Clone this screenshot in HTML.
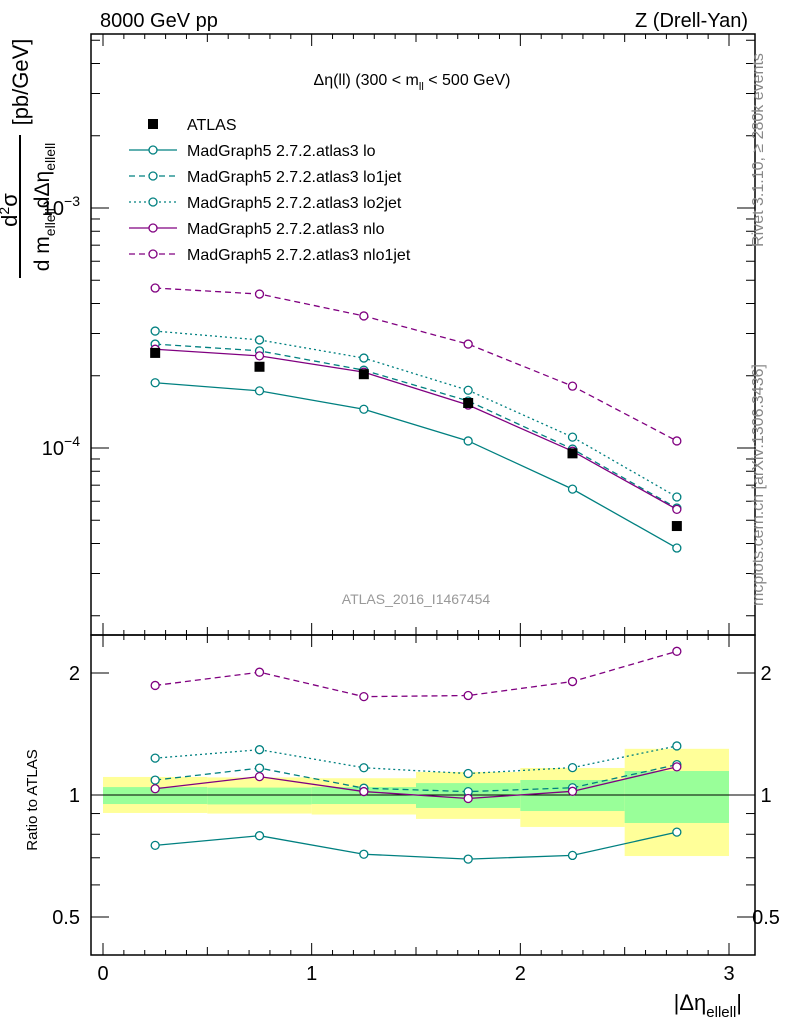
<!DOCTYPE html>
<html><head><meta charset="utf-8"><style>
body{margin:0;background:#fff;}
svg{display:block;font-family:"Liberation Sans",sans-serif;}
</style></head><body>
<svg id="c" width="786" height="1024"></svg>
<script>
const xCenters=[0.25,0.75,1.25,1.75,2.25,2.75];
const binEdges=[0,0.5,1,1.5,2,2.5,3];
const atlas=[2.49e-4,2.18e-4,2.03e-4,1.54e-4,9.5e-5,4.73e-5];
const lo=[1.87e-4,1.73e-4,1.45e-4,1.07e-4,6.74e-5,3.83e-5];
const lo1jet=[2.71e-4,2.54e-4,2.11e-4,1.57e-4,9.9e-5,5.62e-5];
const lo2jet=[3.07e-4,2.82e-4,2.37e-4,1.74e-4,1.11e-4,6.25e-5];
const nlo=[2.58e-4,2.42e-4,2.07e-4,1.51e-4,9.7e-5,5.55e-5];
const nlo1jet=[4.64e-4,4.38e-4,3.55e-4,2.71e-4,1.81e-4,1.07e-4];
const yellowUp=[1.108,1.105,1.10,1.14,1.166,1.30];
const yellowDn=[0.903,0.90,0.895,0.873,0.834,0.707];
const greenUp=[1.046,1.043,1.046,1.07,1.089,1.146];
const greenDn=[0.95,0.948,0.95,0.929,0.913,0.853];
const xTicks=[0,1,2,3];
const ratioTicks=[0.5,1,2];

const NS="http://www.w3.org/2000/svg";
const svg=document.getElementById('c');
function el(t,a,p){const e=document.createElementNS(NS,t);for(const k in a)e.setAttribute(k,a[k]);(p||svg).appendChild(e);return e;}
const X=v=>103+v*208.67;
const Y=v=>448-(Math.log10(v)+4)*240;
const R=v=>795-Math.log2(v)*122;
const L=91,Rt=755,T=34,M=635,B=955;

xCenters.forEach((c,i)=>{
 const y=el('rect',{x:X(binEdges[i]),y:R(yellowUp[i]),width:X(binEdges[i+1])-X(binEdges[i]),height:R(yellowDn[i])-R(yellowUp[i]),fill:'#ffff99'});
 
 const g=el('rect',{x:X(binEdges[i]),y:R(greenUp[i]),width:X(binEdges[i+1])-X(binEdges[i]),height:R(greenDn[i])-R(greenUp[i]),fill:'#99ff99'});
 
});
el('line',{x1:L,x2:Rt,y1:R(1),y2:R(1),stroke:'#000','stroke-width':1});

el('rect',{x:L,y:T,width:Rt-L,height:M-T,fill:'none',stroke:'#000','stroke-width':1.5});
el('rect',{x:L,y:M,width:Rt-L,height:B-M,fill:'none',stroke:'#000','stroke-width':1.5});

function xt(y0,y1dir){
 for(let v=0;v<=3.001;v+=0.1){const maj=Math.abs(v-Math.round(v))<0.01;const half=Math.abs(v*2-Math.round(v*2))<0.01;const len=maj?12:(half?8:5);
  el('line',{x1:X(v),x2:X(v),y1:y0,y2:y0+y1dir*len,stroke:'#000'});}
}
xt(M,-1);xt(T,1);xt(B,-1);xt(M,1);
xTicks.forEach(v=>{const t=el('text',{x:X(v),y:980,'font-size':20,'text-anchor':'middle'});t.textContent=v;
});
for(let d=-5;d<=-2;d++)for(let m=1;m<=9;m++){const v=m*Math.pow(10,d);const y=Y(v);if(y<T||y>M)continue;const len=m==1?18:9;
 el('line',{x1:L,x2:L+len,y1:y,y2:y,stroke:'#000'});el('line',{x1:Rt,x2:Rt-len,y1:y,y2:y,stroke:'#000'});}
[['10',-3],['10',-4]].forEach(([b,e])=>{const t=el('text',{x:80,y:Y(Math.pow(10,e))+7,'font-size':20,'text-anchor':'end'});t.innerHTML=b+'<tspan dy="-9" font-size="14">−'+(-e)+'</tspan>';
 });
[0.5,0.6,0.7,0.8,0.9,1,2].forEach(v=>{const len=ratioTicks.includes(v)?18:9;el('line',{x1:L,x2:L+len,y1:R(v),y2:R(v),stroke:'#000'});el('line',{x1:Rt,x2:Rt-len,y1:R(v),y2:R(v),stroke:'#000'});});
ratioTicks.forEach(v=>{[[80,'end'],[766,'middle']].forEach(([x,a])=>{const t=el('text',{x:x,y:R(v)+7,'font-size':20,'text-anchor':a});t.textContent=v;
 });});

const series=[
 {n:'lo',d:lo,c:'#008080',dash:''},
 {n:'lo1jet',d:lo1jet,c:'#008080',dash:'6,4'},
 {n:'lo2jet',d:lo2jet,c:'#008080',dash:'2,3'},
 {n:'nlo',d:nlo,c:'#800080',dash:''},
 {n:'nlo1jet',d:nlo1jet,c:'#800080',dash:'6,4'}];
series.forEach(s=>{
 const pm=s.d.map((v,i)=>X(xCenters[i])+','+Y(v)).join(' ');
 const pl=el('polyline',{points:pm,fill:'none',stroke:s.c,'stroke-width':1.3,'stroke-dasharray':s.dash});
 
 const pr=s.d.map((v,i)=>X(xCenters[i])+','+R(v/atlas[i])).join(' ');
 const pl2=el('polyline',{points:pr,fill:'none',stroke:s.c,'stroke-width':1.3,'stroke-dasharray':s.dash});
 
 s.d.forEach((v,i)=>{
  const c1=el('circle',{cx:X(xCenters[i]),cy:Y(v),r:4,fill:'#fff',stroke:s.c,'stroke-width':1.3});
  
  const c2=el('circle',{cx:X(xCenters[i]),cy:R(v/atlas[i]),r:4,fill:'#fff',stroke:s.c,'stroke-width':1.3});
  
 });
});
atlas.forEach((v,i)=>{const r=el('rect',{x:X(xCenters[i])-5,y:Y(v)-5,width:10,height:10,fill:'#000'});
 });

const leg=[['ATLAS',null],['MadGraph5 2.7.2.atlas3 lo',0],['MadGraph5 2.7.2.atlas3 lo1jet',1],['MadGraph5 2.7.2.atlas3 lo2jet',2],['MadGraph5 2.7.2.atlas3 nlo',3],['MadGraph5 2.7.2.atlas3 nlo1jet',4]];
leg.forEach(([txt,k],j)=>{const y=124+j*26;
 const g=el('g',{});
 if(k===null)el('rect',{x:148,y:y-5,width:10,height:10,fill:'#000'},g);
 else{const s=series[k];el('line',{x1:129,x2:177,y1:y,y2:y,stroke:s.c,'stroke-width':1.3,'stroke-dasharray':s.dash},g);el('circle',{cx:153,cy:y,r:4,fill:'#fff',stroke:s.c,'stroke-width':1.3},g);}
 const t=el('text',{x:187,y:y+6,'font-size':16},g);t.textContent=txt;});

function txt(x,y,s,h,a,name,extra){const t=el('text',Object.assign({x:x,y:y,'font-size':s,'text-anchor':a||'start'},extra||{}));t.innerHTML=h;return t;}
txt(100,27,20,'8000 GeV pp','start','header-left');
txt(748,27,20,'Z (Drell-Yan)','end','header-right');
txt(412,85,16,'Δη(ll) (300 &lt; m<tspan dy="5" font-size="11">ll</tspan><tspan dy="-5"> &lt; 500 GeV)</tspan>','middle','plot-title');
txt(416,604,14,'ATLAS_2016_I1467454','middle','analysis-label',{fill:'#999'});
txt(0,0,16,'Rivet 3.1.10, ≥ 280k events','middle','rivet-label',{fill:'#888',transform:'translate(763,150) rotate(-90)'});
txt(0,0,16,'mcplots.cern.ch [arXiv:1306.3436]','middle','mcplots-label',{fill:'#888',transform:'translate(763,485) rotate(-90)'});
txt(0,0,15,'Ratio to ATLAS','middle','ratio-y-title',{transform:'translate(37,800) rotate(-90)'});
txt(742,1010,22,'|Δη<tspan dy="7" font-size="15">ellell</tspan><tspan dy="-7">|</tspan>','end','x-axis-title');
txt(0,0,22,'d<tspan dy="-8" font-size="14">2</tspan><tspan dy="8">σ</tspan>','middle','y-title-num',{transform:'translate(17,210) rotate(-90)'});
const bar=el('line',{x1:20,x2:20,y1:135,y2:278,stroke:'#000','stroke-width':2});

txt(0,0,21,'d m<tspan dy="6" font-size="14">ellell</tspan><tspan dy="-6">dΔη</tspan><tspan dy="6" font-size="14">ellell</tspan>','middle','y-title-den',{transform:'translate(49,207) rotate(-90)'});
txt(0,0,22,'[pb/GeV]','middle','y-title-unit',{transform:'translate(28,82) rotate(-90)'});
</script>
</body></html>
